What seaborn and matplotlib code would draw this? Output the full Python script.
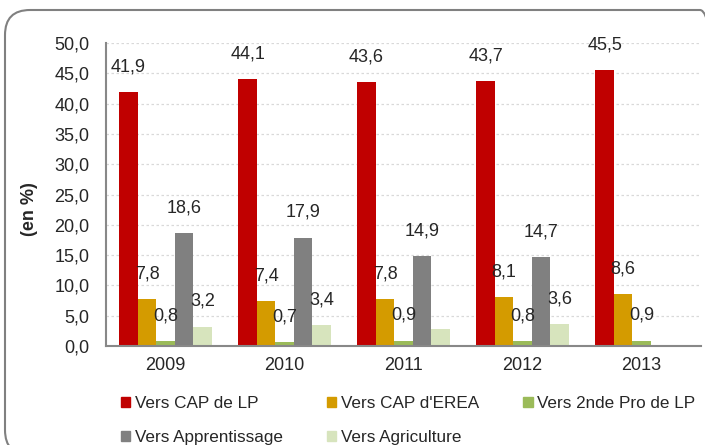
import matplotlib.pyplot as plt
import seaborn as sns
import pandas as pd
import numpy as np
from matplotlib.patches import FancyBboxPatch
from matplotlib.transforms import IdentityTransform
from matplotlib.ticker import FuncFormatter, FixedLocator

years = ["2009", "2010", "2011", "2012", "2013"]
series = ["Vers CAP de LP", "Vers CAP d'EREA", "Vers 2nde Pro de LP",
          "Vers Apprentissage", "Vers Agriculture"]
cap_lp = [41.9, 44.1, 43.6, 43.7, 45.5]
cap_erea = [7.8, 7.4, 7.8, 8.1, 8.6]
pro_lp = [0.8, 0.7, 0.9, 0.8, 0.9]
apprentissage = [18.6, 17.9, 14.9, 14.7, np.nan]
agriculture = [3.2, 3.4, 2.8, 3.6, np.nan]
hidden_labels = [("Vers Agriculture", "2011")]
colors = ["#C00000", "#D49B00", "#9BBB59", "#808080", "#D7E4BD"]

rows = []
for name, vals in zip(series, [cap_lp, cap_erea, pro_lp, apprentissage, agriculture]):
    for y, v in zip(years, vals):
        rows.append({"year": y, "serie": name, "value": v})
df = pd.DataFrame(rows)

sns.set_style("white")
plt.rcParams['font.family'] = ['Liberation Sans', 'DejaVu Sans']
fs = 13

fig = plt.figure(figsize=(7.05, 4.45), dpi=100)
ax = fig.add_axes([106 / 705, 1 - 346 / 445, 595 / 705, 303 / 445])

# rounded frame (runs off the right and bottom edges like the original)
frame = FancyBboxPatch((5, -10), 720, 445,
                       boxstyle="round,pad=0,rounding_size=25",
                       transform=IdentityTransform(), facecolor="none",
                       edgecolor="#808080", linewidth=1.5, zorder=0)
fig.patches.append(frame)

sns.barplot(data=df, x="year", y="value", hue="serie", order=years,
            hue_order=series, palette=colors, width=0.775, errorbar=None,
            saturation=1, ax=ax, legend=False, linewidth=0)

fmt = lambda v: f"{v:.1f}".replace('.', ',')
for name, cont in zip(series, ax.containers):
    labels = []
    for bar, v in zip(cont, cont.datavalues):
        idx = int(round(bar.get_x() + bar.get_width() / 2))
        if np.isnan(v) or (name, years[idx]) in hidden_labels:
            labels.append("")
        else:
            labels.append(fmt(v))
    ax.bar_label(cont, labels=labels, padding=12, fontsize=fs)

ax.set_ylim(0, 50)
ax.set_xlim(-0.5, 4.5)
ax.set_yticks(np.arange(0, 50.1, 5))
ax.yaxis.set_major_formatter(FuncFormatter(lambda v, p: fmt(v)))
ax.xaxis.set_minor_locator(FixedLocator(np.arange(-0.5, 4.6, 1)))
ax.tick_params(axis='x', which='major', length=0, pad=8, labelsize=fs)
ax.tick_params(axis='x', which='minor', length=6, width=1.3, color="#888888", direction='out')
ax.tick_params(axis='y', length=6, width=1.3, color="#888888", direction='out', pad=6, labelsize=fs)
ax.set_xlabel("")
ax.set_ylabel("")
ax.yaxis.grid(True, linestyle=(0, (2, 2)), color="#d9d9d9", linewidth=0.9)
ax.set_axisbelow(True)
for s in ["top", "right"]:
    ax.spines[s].set_visible(False)
for s in ["left", "bottom"]:
    ax.spines[s].set_color("#888888")
    ax.spines[s].set_linewidth(1.5)

fig.text(30 / 705, 1 - 209 / 445, "(en %)", rotation=90, ha='center', va='center',
         fontsize=fs, fontweight='bold')

handles = [plt.Rectangle((0, 0), 1, 1, color=c) for c in colors]
order = [0, 3, 1, 4, 2]
ax.legend([handles[i] for i in order], [series[i] for i in order], ncol=3,
          loc='upper left', bbox_to_anchor=(121 / 705, 1 - 396 / 445),
          bbox_transform=fig.transFigure, frameon=False, fontsize=12.3,
          handlelength=0.55, handleheight=0.55, handletextpad=0.25,
          columnspacing=2.6, labelspacing=1.1, borderpad=0, borderaxespad=0)

fig.savefig("out.png", dpi=100)
